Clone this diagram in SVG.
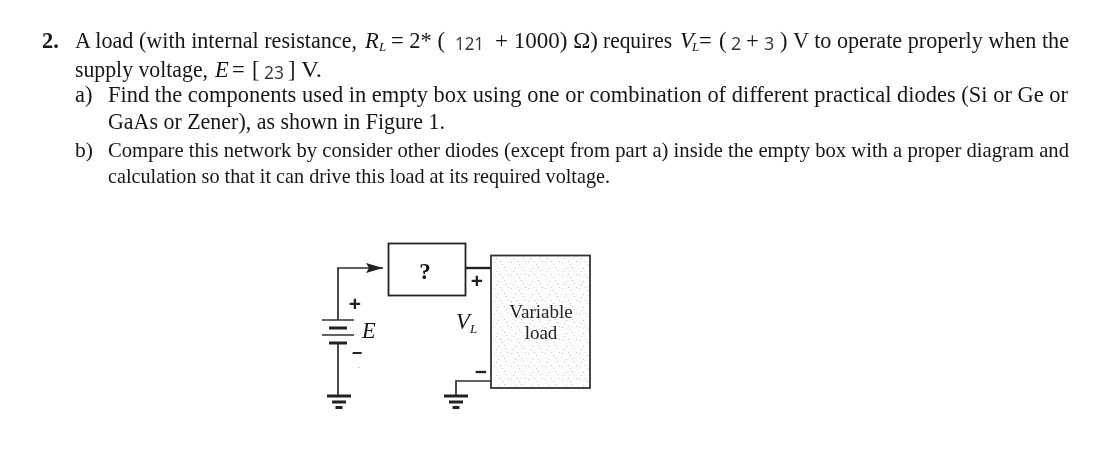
<svg xmlns="http://www.w3.org/2000/svg" width="1115" height="460" viewBox="0 0 1115 460">
<style>
text{font-family:"Liberation Serif","Times New Roman",serif;fill:#161616}
.t{font-size:22.500px}
.n{font-size:21.500px}
.i{font-style:italic}
.s{font-family:"Open Sans","Noto Sans",sans-serif;font-size:18px;fill:#333}
.sub{font-size:13px;font-style:italic}
.lab{font-size:19px;text-anchor:middle;fill:#222}
.w{fill:none;stroke:#2b2b2b;stroke-width:1.700}
.b{fill:none;stroke:#222;stroke-width:3}
.m{font-family:"Liberation Sans",sans-serif;font-weight:bold;text-anchor:middle;fill:#222}
</style>
<defs>
<filter id="soft" x="-2%" y="-2%" width="104%" height="104%"><feGaussianBlur stdDeviation="0.4"/></filter>
<pattern id="stipple" width="17" height="13" patternUnits="userSpaceOnUse">
<rect width="17" height="13" fill="#fcfcfc"/>
<g fill="#c8c8c8"><rect x="1" y="2" width="1" height="1"/><rect x="5" y="8" width="1" height="1"/><rect x="9" y="4" width="1" height="1"/><rect x="13" y="10" width="1" height="1"/><rect x="15" y="1" width="1" height="1"/><rect x="3" y="11" width="1" height="1"/><rect x="7" y="1" width="1" height="1"/><rect x="11" y="7" width="1" height="1"/></g>
</pattern>
<marker id="arrow" markerUnits="userSpaceOnUse" markerWidth="18" markerHeight="10" refX="17" refY="5" orient="auto"><path d="M0 0L17 5L0 10L3 5Z" fill="#222"/></marker>
<g id="gnd"><path d="M-12 0H12M-7 6H7M-3.500 11.500H3.500" fill="none" stroke="#222" stroke-width="3"/></g>
</defs>
<rect width="1115" height="460" fill="#fff"/>
<g filter="url(#soft)">
<g id="question">
<text class="t" x="42" y="48" font-weight="bold">2.</text>
<text class="t" x="75" y="48" textLength="282" lengthAdjust="spacingAndGlyphs">A load (with internal resistance,</text>
<text class="t i" x="365" y="48">R</text><text class="sub" x="379" y="51">L</text>
<text class="t" x="391" y="48" textLength="54" lengthAdjust="spacingAndGlyphs">= 2* (</text>
<text class="s" x="455" y="50" textLength="29" lengthAdjust="spacingAndGlyphs">121</text>
<text class="t" x="495" y="48" textLength="103" lengthAdjust="spacingAndGlyphs">+ 1000) Ω)</text>
<text class="t" x="603" y="48" textLength="69" lengthAdjust="spacingAndGlyphs">requires</text>
<text class="t i" x="680" y="48">V</text><text class="sub" x="692" y="51">L</text>
<text class="t" x="699" y="48">=</text><text class="t" x="719" y="48">(</text>
<text class="s" x="731" y="50">2</text><text class="t" x="746" y="48">+</text><text class="s" x="764" y="50">3</text>
<text class="t" x="780" y="48">)</text>
<text class="t" x="793" y="48" textLength="276" lengthAdjust="spacingAndGlyphs">V to operate properly when the</text>
<text class="t" x="75" y="77" textLength="133" lengthAdjust="spacingAndGlyphs">supply voltage,</text>
<text class="t i" x="215" y="77">E</text><text class="t" x="232" y="77">=</text><text class="t" x="252" y="77">[</text>
<text class="s" x="264" y="79" textLength="20" lengthAdjust="spacingAndGlyphs">23</text>
<text class="t" x="288" y="77">]</text><text class="t" x="301" y="77" textLength="21" lengthAdjust="spacingAndGlyphs">V.</text>
<text class="t" x="75" y="102">a)</text>
<text class="t" x="108" y="102" textLength="960" lengthAdjust="spacingAndGlyphs">Find the components used in empty box using one or combination of different practical diodes (Si or Ge or</text>
<text class="t" x="108" y="129" textLength="337" lengthAdjust="spacingAndGlyphs">GaAs or Zener), as shown in Figure 1.</text>
<text class="t n" x="75" y="157">b)</text>
<text class="t n" x="108" y="157" textLength="961" lengthAdjust="spacingAndGlyphs">Compare this network by consider other diodes (except from part a) inside the empty box with a proper diagram and</text>
<text class="t n" x="108" y="183" textLength="502" lengthAdjust="spacingAndGlyphs">calculation so that it can drive this load at its required voltage.</text>
</g>
<g id="connectors">
<path class="w" d="M338 320V268H383" marker-end="url(#arrow)"/>
<path class="w" d="M338 344V396"/>
<path d="M463 268H495" fill="none" stroke="#222" stroke-width="2.400"/>
<path class="w" d="M491 381H456V396"/>
</g>
<g id="battery">
<path d="M322 320H354M322 335H354" fill="none" stroke="#333" stroke-width="1.500"/>
<path d="M329 328H347M329 343H347" class="b"/>
<text class="m" x="355" y="311" font-size="21">+</text>
<text class="t i" x="362" y="338">E</text>
<text class="m" x="357" y="359" font-size="18">−</text>
<text class="m" x="359" y="369" font-size="6" style="fill:#999">-</text>
<use href="#gnd" x="339" y="396"/>
</g>
<g id="box">
<rect x="388.500" y="243.500" width="77" height="52" fill="#fff" stroke="#222" stroke-width="1.800"/>
<text x="425" y="279" font-size="23" font-weight="bold" text-anchor="middle">?</text>
</g>
<g id="load">
<rect x="491" y="255.500" width="99" height="132.500" fill="url(#stipple)" stroke="#333" stroke-width="1.800"/>
<text class="lab" x="541" y="318">Variable</text>
<text class="lab" x="541" y="339">load</text>
</g>
<g id="output-labels">
<text class="m" x="477" y="288" font-size="21">+</text>
<text class="t i" x="456" y="329">V</text><text class="sub" x="470" y="333">L</text>
<text class="m" x="481" y="379" font-size="21">−</text>
<use href="#gnd" x="456" y="396"/>
</g>
</g>
</svg>
